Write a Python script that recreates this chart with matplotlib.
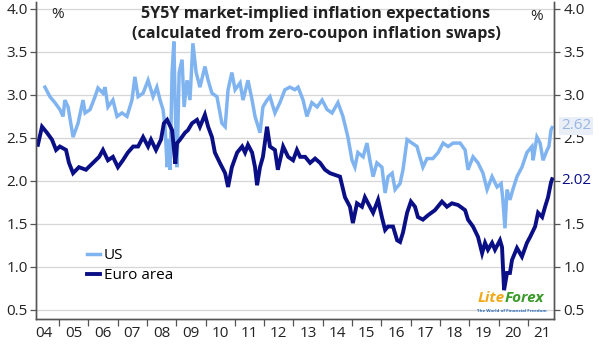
import numpy as np
import matplotlib
matplotlib.use("Agg")
import matplotlib.pyplot as plt

# ── data (decimal year, % ) ──────────────────────────────────────────────────
us_year = [
    2004.52, 2004.69, 2004.86, 2005.03, 2005.14, 2005.20, 2005.31, 2005.44, 2005.48,
    2005.65, 2005.82, 2005.89, 2006.06, 2006.23, 2006.33, 2006.50, 2006.57, 2006.67,
    2006.84, 2006.98, 2007.15, 2007.32, 2007.49, 2007.59, 2007.70, 2007.87, 2008.04,
    2008.21, 2008.34, 2008.45, 2008.55, 2008.62, 2008.69, 2008.72, 2008.76, 2008.79,
    2008.86, 2008.92, 2008.99, 2009.03, 2009.10, 2009.20, 2009.27, 2009.37, 2009.47,
    2009.57, 2009.68, 2009.81, 2009.98, 2010.09, 2010.22, 2010.39, 2010.56, 2010.67,
    2010.77, 2010.90, 2011.01, 2011.18, 2011.28, 2011.45, 2011.59, 2011.69, 2011.86,
    2011.96, 2012.10, 2012.20, 2012.37, 2012.54, 2012.71, 2012.88, 2013.05, 2013.16,
    2013.33, 2013.46, 2013.63, 2013.81, 2013.98, 2014.15, 2014.32, 2014.52, 2014.69,
    2014.86, 2015.00, 2015.10, 2015.20, 2015.38, 2015.51, 2015.61, 2015.72, 2015.85,
    2016.02, 2016.13, 2016.23, 2016.37, 2016.47, 2016.64, 2016.74, 2016.88, 2017.05,
    2017.22, 2017.25, 2017.42, 2017.56, 2017.76, 2017.94, 2018.11, 2018.28, 2018.45,
    2018.69, 2018.86, 2018.96, 2019.13, 2019.30, 2019.47, 2019.61, 2019.78, 2019.95,
    2020.09, 2020.15, 2020.22, 2020.29, 2020.39, 2020.49, 2020.63, 2020.80, 2020.97,
    2021.14, 2021.18, 2021.31, 2021.42, 2021.52, 2021.66, 2021.72, 2021.79, 2021.83,
]
us_val = [
    3.09, 2.98, 2.91, 2.83, 2.75, 2.94, 2.86, 2.59, 2.51,
    2.67, 2.94, 2.79, 2.83, 2.98, 3.08, 3.02, 3.09, 2.86,
    2.94, 2.75, 2.79, 2.75, 2.94, 3.21, 2.98, 3.02, 3.17,
    2.98, 3.09, 2.94, 2.83, 2.63, 2.16, 2.48, 2.40, 2.13,
    3.26, 3.62, 2.48, 2.16, 3.26, 3.41, 2.86, 3.17, 2.94,
    3.60, 3.26, 3.09, 3.33, 3.17, 3.02, 2.98, 2.67, 2.63,
    3.06, 3.26, 3.06, 3.14, 2.94, 3.17, 2.94, 2.75, 2.56,
    2.86, 2.94, 2.98, 2.79, 2.91, 3.06, 3.09, 3.06, 3.09,
    2.94, 2.75, 2.91, 2.86, 2.94, 2.83, 2.79, 2.91, 2.75,
    2.51, 2.24, 2.16, 2.33, 2.28, 2.44, 2.24, 2.05, 2.21,
    2.16, 1.86, 2.05, 2.09, 1.90, 1.97, 2.13, 2.48, 2.44,
    2.40, 2.36, 2.16, 2.26, 2.26, 2.33, 2.44, 2.40, 2.44,
    2.44, 2.36, 2.13, 2.28, 2.21, 2.09, 1.90, 2.05, 1.93,
    1.97, 1.78, 1.45, 1.90, 1.78, 1.90, 2.05, 2.16, 2.33,
    2.40, 2.24, 2.51, 2.44, 2.24, 2.36, 2.40, 2.59, 2.62,
]

ea_year = [
    2004.28, 2004.42, 2004.59, 2004.76, 2004.90, 2005.03, 2005.24, 2005.34, 2005.48,
    2005.68, 2005.92, 2006.16, 2006.37, 2006.50, 2006.67, 2006.84, 2007.01, 2007.18,
    2007.35, 2007.53, 2007.70, 2007.87, 2008.04, 2008.14, 2008.31, 2008.48, 2008.58,
    2008.69, 2008.86, 2008.97, 2009.03, 2009.13, 2009.30, 2009.40, 2009.54, 2009.71,
    2009.81, 2009.98, 2010.09, 2010.22, 2010.32, 2010.49, 2010.67, 2010.77, 2010.90,
    2011.08, 2011.25, 2011.35, 2011.45, 2011.59, 2011.69, 2011.76, 2011.86, 2011.96,
    2012.10, 2012.20, 2012.37, 2012.47, 2012.65, 2012.82, 2012.99, 2013.12, 2013.23,
    2013.40, 2013.57, 2013.74, 2013.91, 2014.08, 2014.25, 2014.42, 2014.59, 2014.76,
    2014.93, 2015.03, 2015.17, 2015.34, 2015.44, 2015.61, 2015.72, 2015.89, 2016.02,
    2016.13, 2016.23, 2016.40, 2016.54, 2016.64, 2016.74, 2016.88, 2017.01, 2017.15,
    2017.25, 2017.42, 2017.59, 2017.83, 2018.07, 2018.24, 2018.41, 2018.62, 2018.86,
    2018.96, 2019.13, 2019.30, 2019.44, 2019.54, 2019.64, 2019.78, 2019.88, 2020.05,
    2020.12, 2020.19, 2020.29, 2020.39, 2020.46, 2020.63, 2020.80, 2020.97, 2021.08,
    2021.25, 2021.35, 2021.49, 2021.59, 2021.69, 2021.79, 2021.83,
]
ea_val = [
    2.42, 2.63, 2.56, 2.48, 2.36, 2.40, 2.36, 2.21, 2.09,
    2.16, 2.13, 2.21, 2.28, 2.36, 2.24, 2.28, 2.16, 2.24,
    2.33, 2.40, 2.40, 2.51, 2.40, 2.48, 2.36, 2.48, 2.67,
    2.71, 2.59, 2.20, 2.44, 2.48, 2.56, 2.59, 2.67, 2.71,
    2.63, 2.77, 2.63, 2.51, 2.33, 2.21, 2.09, 1.93, 2.16,
    2.33, 2.40, 2.33, 2.42, 2.33, 2.16, 1.95, 2.16, 2.28,
    2.63, 2.40, 2.36, 2.13, 2.40, 2.28, 2.24, 2.36, 2.28,
    2.28, 2.21, 2.26, 2.21, 2.13, 2.09, 2.07, 2.05, 1.81,
    1.70, 1.51, 1.74, 1.70, 1.81, 1.70, 1.63, 1.78, 1.58,
    1.43, 1.47, 1.47, 1.31, 1.29, 1.40, 1.63, 1.76, 1.70,
    1.58, 1.55, 1.60, 1.66, 1.76, 1.70, 1.74, 1.72, 1.66,
    1.55, 1.47, 1.35, 1.16, 1.28, 1.20, 1.28, 1.20, 1.31,
    1.23, 0.73, 0.93, 0.93, 1.08, 1.22, 1.12, 1.28, 1.35,
    1.47, 1.63, 1.58, 1.70, 1.81, 1.98, 2.02,
]

y_ticks = [0.5, 1.0, 1.5, 2.0, 2.5, 3.0, 3.5, 4.0]
years = list(range(2004, 2022))
year_labels = [f"{y % 100:02d}" for y in years]

US_COLOR = "#80b4f0"
EA_COLOR = "#0b0f86"
AXIS_COLOR = "#555555"
TEXT_COLOR = "#222222"

plt.rcParams.update({
    "font.family": ["Open Sans", "DejaVu Sans"],
    "font.size": 11,
})

fig = plt.figure(figsize=(5.99, 3.44), dpi=100)
ax = fig.add_axes([36 / 599, 1 - 319 / 344, (554 - 36) / 599, (319 - 2) / 344])

ax.plot(us_year, us_val, color=US_COLOR, linewidth=2.5, label="US",
        solid_joinstyle="miter", zorder=3)
ax.plot(ea_year, ea_val, color=EA_COLOR, linewidth=2.8, label="Euro area",
        solid_joinstyle="miter", zorder=4)

ax.set_xlim(2004.215, 2021.894)
ax.set_ylim(0.395, 4.08)

# year ticks at boundaries, labels centred mid-year
ax.set_xticks(range(2005, 2022))
ax.set_xticklabels([])
ax.set_xticks([y + 0.5 for y in years], minor=True)
ax.set_xticklabels(year_labels, minor=True, fontsize=11)
ax.tick_params(axis="x", which="major", direction="out", length=5,
               color=AXIS_COLOR, width=0.9)
ax.tick_params(axis="x", which="minor", length=0, pad=5, colors=TEXT_COLOR)

ax.set_yticks(y_ticks)
ax.set_yticklabels([f"{v:.1f}" for v in y_ticks], fontsize=11)
ax.tick_params(axis="y", direction="out", length=4, color=AXIS_COLOR,
               width=0.9, pad=2, labelcolor=TEXT_COLOR)
ax.grid(axis="y", color="#d6d6d6", linewidth=0.9)
ax.set_axisbelow(True)

# right axis
ax2 = ax.twinx()
ax2.set_ylim(ax.get_ylim())
ax2.set_yticks(y_ticks)
ax2.set_yticklabels(["" if v == 2.0 else f"{v:.1f}" for v in y_ticks], fontsize=11)
ax2.tick_params(axis="y", direction="out", length=4, color=AXIS_COLOR,
                width=0.9, pad=3, labelcolor=TEXT_COLOR)

for a in (ax, ax2):
    a.spines["top"].set_visible(False)
    for s in ("left", "right", "bottom"):
        a.spines[s].set_color(AXIS_COLOR)
        a.spines[s].set_linewidth(1.0)

# end-value labels
ax2.text(1.014, 2.64, f"{us_val[-1]:.2f}", transform=ax2.get_yaxis_transform(),
         color="#9ab6e2", fontsize=11, va="center", ha="left", zorder=10,
         bbox=dict(boxstyle="square,pad=0.12", facecolor="#e9eef7", edgecolor="none"))
ax2.text(1.014, 2.00, f"{ea_val[-1]:.2f}", transform=ax2.get_yaxis_transform(),
         color=EA_COLOR, fontsize=11, va="center", ha="left")

# unit markers and title
fig.text(58 / 599, 1 - 15 / 344, "%", fontsize=11, ha="center", va="center",
         color=TEXT_COLOR)
fig.text(537 / 599, 1 - 17 / 344, "%", fontsize=11, ha="center", va="center",
         color=TEXT_COLOR)
fig.text(316 / 599, 1 - 14 / 344, "5Y5Y market-implied inflation expectations",
         fontsize=11.6, fontweight="bold", ha="center", va="center", color=TEXT_COLOR)
fig.text(316 / 599, 1 - 34 / 344, "(calculated from zero-coupon inflation swaps)",
         fontsize=11.6, fontweight="bold", ha="center", va="center", color=TEXT_COLOR)

ax.legend(loc="lower left", bbox_to_anchor=(45 / 518, 30 / 317), frameon=False,
          handlelength=0.85, handletextpad=0.25, labelspacing=0.3, fontsize=11,
          borderaxespad=0)

# watermark
fig.text(478 / 599, 1 - 298 / 344, "Lite", color="#f0a818", fontsize=11,
         fontweight="bold", fontstyle="italic", ha="left", va="center")
fig.text(505 / 599, 1 - 298 / 344, "Forex", color="#3a9a2a", fontsize=11,
         fontweight="bold", fontstyle="italic", ha="left", va="center")
fig.text(512 / 599, 1 - 311 / 344, "The World of Financial Freedom", color="#2a6ab8",
         fontsize=3.2, fontweight="bold", ha="center", va="center")

fig.savefig("out.png", dpi=100)
